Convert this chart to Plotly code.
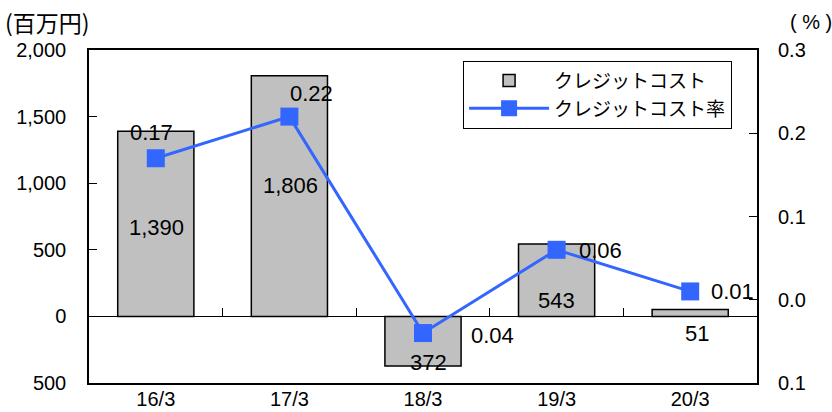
import plotly.graph_objects as go

# ---- data ----
categories = ["16/3", "17/3", "18/3", "19/3", "20/3"]
credit_cost = [1390, 1806, -372, 543, 51]          # 百万円
credit_cost_rate = [0.17, 0.22, -0.04, 0.06, 0.01]  # %
cost_labels = ["1,390", "1,806", "372", "543", "51"]
rate_labels = ["0.17", "0.22", "0.04", "0.06", "0.01"]
left_tickvals = [2000, 1500, 1000, 500, 0, -500]
left_ticktext = ["2,000", "1,500", "1,000", "500", "0", "500"]
right_tickvals = [0.3, 0.2, 0.1, 0.0, -0.1]
right_ticktext = ["0.3", "0.2", "0.1", "0.0", "0.1"]
series_names = ["クレジットコスト", "クレジットコスト率"]

# label offsets in pixels (style)
cost_label_shift = [(1, -96), (1, -110), (5, 3), (0, -56), (7, -24)]
rate_label_shift = [(-4, 26), (22, 23), (69, -2), (44, -1), (42, 0)]

FONT = "Liberation Sans, Arial, sans-serif"
CJK = "Noto Sans CJK JP, sans-serif"

fig = go.Figure()
fig.add_trace(go.Bar(
    x=categories, y=credit_cost, name=series_names[0],
    marker=dict(color="#C0C0C0", line=dict(color="black", width=1.5)),
    width=0.57,
))
fig.add_trace(go.Scatter(
    x=categories, y=credit_cost_rate, name=series_names[1], yaxis="y2",
    mode="lines+markers",
    line=dict(color="#3366FF", width=3),
    marker=dict(symbol="square", size=18, color="#3366FF"),
))
# helper trace for the tick axis on the zero line
fig.add_trace(go.Scatter(x=[-0.5, 4.5], y=[0, 0], xaxis="x3", mode="none",
                         showlegend=False, hoverinfo="skip"))

annotations = []
for c, v, t, (dx, dy) in zip(categories, credit_cost, cost_labels, cost_label_shift):
    annotations.append(dict(x=c, y=v, xref="x", yref="y", text=t, showarrow=False,
                            xshift=dx, yshift=dy, font=dict(size=22, family=FONT, color="black")))
for c, v, t, (dx, dy) in zip(categories, credit_cost_rate, rate_labels, rate_label_shift):
    annotations.append(dict(x=c, y=v, xref="x", yref="y2", text=t, showarrow=False,
                            xshift=dx, yshift=dy, font=dict(size=22, family=FONT, color="black")))
annotations.append(dict(x=-0.128, y=1.084, xref="paper", yref="paper", text="(百万円)",
                        showarrow=False, xanchor="left", yanchor="middle",
                        font=dict(size=23, family=CJK, color="black")))
annotations.append(dict(x=1.046, y=1.084, xref="paper", yref="paper", text="( % )",
                        showarrow=False, xanchor="left", yanchor="middle",
                        font=dict(size=20, family=FONT, color="black")))

fig.update_layout(
    width=832, height=412,
    margin=dict(l=89, r=75, t=50, b=29, pad=0, autoexpand=False),
    paper_bgcolor="white", plot_bgcolor="white",
    font=dict(family=FONT, size=20, color="black"),
    showlegend=True,
    legend=dict(x=0.56, y=0.968, xanchor="left", yanchor="top",
                bgcolor="white", bordercolor="black", borderwidth=1,
                font=dict(family=CJK, size=19, color="black"),
                traceorder="normal", itemwidth=80, tracegroupgap=0),
    annotations=annotations,
    xaxis=dict(type="category", categoryarray=categories, range=[-0.5, 4.5],
               showline=True, mirror=True, linecolor="black", linewidth=1.5,
               ticks="", showgrid=False, zeroline=False, automargin=False,
               tickfont=dict(size=20), ticklabelstandoff=-3),
    xaxis3=dict(overlaying="x", anchor="free", position=0.2, range=[-0.5, 4.5],
                tickvals=[0.5, 1.5, 2.5, 3.5], ticks="inside", ticklen=8,
                tickcolor="black", tickwidth=1, showticklabels=False, automargin=False,
                showline=False, showgrid=False, zeroline=False),
    yaxis=dict(range=[-500, 2000], tickvals=left_tickvals, ticktext=left_ticktext,
               ticks="inside", ticklen=8, tickcolor="black", tickwidth=1, automargin=False,
               showline=True, mirror=True, linecolor="black", linewidth=1.5,
               showgrid=False, zeroline=True, zerolinecolor="black", zerolinewidth=1,
               tickfont=dict(size=20), ticklabelstandoff=17),
    yaxis2=dict(overlaying="y", side="right", range=[-0.1, 0.3],
                tickvals=right_tickvals, ticktext=right_ticktext, automargin=False,
                ticks="inside", ticklen=8, tickcolor="black", tickwidth=1,
                showline=False, showgrid=False, zeroline=False,
                tickfont=dict(size=20), ticklabelstandoff=20),
)

fig.write_html("out.html")
